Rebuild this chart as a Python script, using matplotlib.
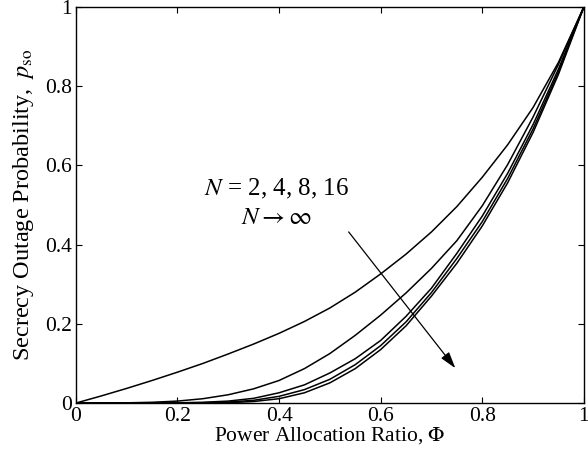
import matplotlib
matplotlib.use("Agg")
import matplotlib.pyplot as plt

# --- data ---
phi = [0.0, 0.05, 0.1, 0.15, 0.2, 0.25, 0.3, 0.35, 0.4, 0.45, 0.5,
       0.55, 0.6, 0.65, 0.7, 0.75, 0.8, 0.85, 0.9, 0.95, 1.0]

p_n2 = [0.0, 0.018, 0.037, 0.057, 0.078, 0.100, 0.124, 0.149, 0.176, 0.206, 0.240,
        0.280, 0.326, 0.376, 0.432, 0.496, 0.570, 0.652, 0.746, 0.860, 1.0]
p_n4 = [0.0, 0.0001, 0.0006, 0.002, 0.005, 0.011, 0.021, 0.036, 0.057, 0.087, 0.125,
        0.171, 0.222, 0.278, 0.340, 0.410, 0.498, 0.602, 0.722, 0.855, 1.0]
p_n8 = [0.0, 0.0, 0.0, 0.0002, 0.0007, 0.002, 0.005, 0.012, 0.026, 0.046, 0.076,
        0.112, 0.158, 0.219, 0.290, 0.378, 0.472, 0.580, 0.703, 0.843, 1.0]
p_n16 = [0.0, 0.0, 0.0, 0.0, 0.0002, 0.0008, 0.0025, 0.007, 0.017, 0.034, 0.060,
         0.097, 0.145, 0.205, 0.279, 0.365, 0.458, 0.567, 0.692, 0.836, 1.0]
p_inf = [0.0, 0.0, 0.0, 0.0, 0.0, 0.0002, 0.001, 0.004, 0.011, 0.026, 0.051,
         0.087, 0.135, 0.195, 0.270, 0.353, 0.447, 0.556, 0.683, 0.830, 1.0]

ticks = [0, 0.2, 0.4, 0.6, 0.8, 1]
tick_labels = ["0", "0.2", "0.4", "0.6", "0.8", "1"]

# --- style ---
plt.rcParams["font.family"] = ["Liberation Serif", "DejaVu Serif"]
plt.rcParams["mathtext.fontset"] = "stix"

fig = plt.figure(figsize=(5.88, 4.57), dpi=100)
ax = fig.add_axes([0.129, 0.118, 0.864, 0.867])

for p in [p_n2, p_n4, p_n8, p_n16, p_inf]:
    ax.plot(phi, p, color="black", lw=1.1)

ax.set_xlim(0, 1)
ax.set_ylim(0, 1)
ax.set_xticks(ticks)
ax.set_xticklabels(tick_labels)
ax.set_yticks(ticks)
ax.set_yticklabels(tick_labels)
ax.tick_params(direction="in", top=True, right=True, length=4,
               labelsize=15.5, pad=3)
for s in ax.spines.values():
    s.set_linewidth(1.0)

ax.set_xlabel(r"Power Allocation Ratio, $\Phi$", fontsize=15.5, labelpad=-1)
ax.set_ylabel(r"Secrecy Outage Probability, $\;p_{\mathrm{so}}$", fontsize=17.5, labelpad=6)

# --- annotation ---
ax.text(0.394, 0.54, r"$N$ = 2, 4, 8, 16", fontsize=18, ha="center", va="center")
ax.text(0.394, 0.468, r"$N \rightarrow \infty$", fontsize=18, ha="center", va="center")
ax.annotate("", xy=(0.747, 0.088), xytext=(0.537, 0.432),
            arrowprops=dict(arrowstyle="-|>,head_length=1.0,head_width=0.3",
                            color="black", lw=0.9, shrinkA=0, shrinkB=0))

fig.savefig("out.png", dpi=100)
